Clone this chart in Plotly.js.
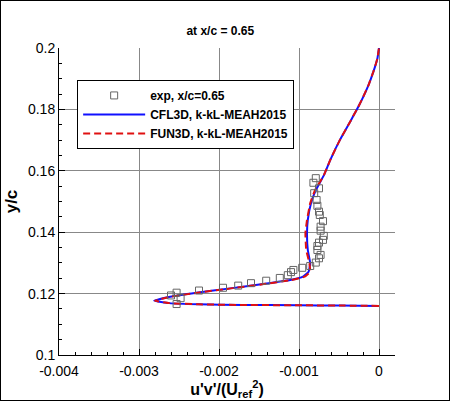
<!DOCTYPE html>
<html>
<head>
<meta charset="utf-8">
<script src="https://cdn.plot.ly/plotly-3.0.1.min.js"></script>
<style>
  body { margin: 0; background: #fff; }
  #chart { width: 448px; height: 399px; border: 1px solid #000; }
</style>
</head>
<body>
<div id="chart"></div>
<script>
// experimental data, x/c = 0.65
const expX = [-0.00079, -0.00082, -0.00075, -0.00081, -0.00078, -0.00077, -0.00075, -0.00074,
  -0.0007, -0.00073, -0.00073, -0.00069, -0.0007, -0.00075, -0.00077, -0.00077, -0.00073,
  -0.00075, -0.00079, -0.00086, -0.00096, -0.00107, -0.0011, -0.00114, -0.00124, -0.00141,
  -0.0016, -0.00176, -0.00195, -0.00225, -0.00253, -0.0026, -0.00248, -0.00253];
const expY = [0.1576, 0.1561, 0.1543, 0.1527, 0.1505, 0.1486, 0.1467, 0.1456,
  0.1436, 0.1418, 0.1405, 0.1388, 0.1375, 0.1366, 0.1355, 0.1342, 0.1326,
  0.1315, 0.1301, 0.129, 0.1284, 0.1277, 0.127, 0.126, 0.1251, 0.1242,
  0.1234, 0.1226, 0.1219, 0.121, 0.1203, 0.1194, 0.1185, 0.1166];

// CFL3D k-kL-MEAH2015
const cflX = [0, -0.0005, -0.001, -0.0017, -0.00225, -0.00262, -0.00281, -0.00261, -0.00228, -0.00186,
  -0.00145, -0.00111, -0.00095, -0.00088, -0.00086, -0.00089, -0.0009, -0.00089, -0.00085,
  -0.00079, -0.00069, -0.00061, -0.00049, -0.00035, -0.00028, -0.000215, -0.00013, -0.00007, -0.00002, 0];
const cflY = [0.116, 0.1161, 0.1162, 0.1163, 0.1165, 0.1169, 0.1177, 0.119, 0.1203, 0.1217,
  0.1231, 0.1244, 0.1255, 0.1271, 0.1299, 0.1342, 0.1396, 0.144, 0.1494,
  0.1537, 0.1585, 0.1635, 0.17, 0.1765, 0.1798, 0.1831, 0.188, 0.1923, 0.1966, 0.2];

// FUN3D k-kL-MEAH2015
const funX = [0, -0.0005, -0.001, -0.0017, -0.00225, -0.00262, -0.0028, -0.0026, -0.00227, -0.00185,
  -0.00144, -0.0011, -0.00093, -0.00086, -0.00087, -0.00091, -0.00092, -0.0009, -0.00086,
  -0.0008, -0.00069, -0.00061, -0.00049, -0.00035, -0.00028, -0.000215, -0.00013, -0.00007, -0.00002, 0];
const funY = cflY;

const xTicks = [-0.004, -0.003, -0.002, -0.001, 0];
const xTickText = ['-0.004', '-0.003', '-0.002', '-0.001', '0'];
const yTicks = [0.1, 0.12, 0.14, 0.16, 0.18, 0.2];
const yTickText = ['0.1', '0.12', '0.14', '0.16', '0.18', '0.2'];

const font = 'Liberation Sans, Arial, sans-serif';

const traces = [
  {
    x: cflX, y: cflY, mode: 'lines', name: 'CFL3D, k-kL-MEAH2015',
    line: { color: '#1010ff', width: 2, shape: 'spline', smoothing: 0.3 }, legendrank: 2
  },
  {
    x: funX, y: funY, mode: 'lines', name: 'FUN3D, k-kL-MEAH2015',
    line: { color: '#e01010', width: 2, dash: '7px,4px', shape: 'spline', smoothing: 0.3 }, legendrank: 3
  },
  {
    x: expX, y: expY, mode: 'markers', name: 'exp, x/c=0.65',
    marker: { symbol: 'square-open', size: 7, color: '#666', line: { width: 1 } },
    legendrank: 1
  }
];

const layout = {
  width: 448, height: 399,
  margin: { l: 58, r: 54, t: 47, b: 45 },
  paper_bgcolor: '#fff', plot_bgcolor: '#fff',
  font: { family: font, color: '#000', size: 14 },
  title: {
    text: 'at x/c = 0.65', font: { size: 12, weight: 'bold' },
    x: 0.48, xref: 'paper', xanchor: 'center',
    y: 0.925, yanchor: 'middle'
  },
  xaxis: {
    range: [-0.004, 0.0002],
    tickvals: xTicks, ticktext: xTickText,
    ticks: 'inside', ticklen: 6, tickcolor: '#000',
    ticklabelstandoff: 3,
    minor: { dtick: 0.0002, ticks: 'inside', ticklen: 3, tickcolor: '#000', showgrid: false },
    showline: true, linecolor: '#000', linewidth: 1,
    showgrid: true, gridcolor: '#888', gridwidth: 1,
    zeroline: false,
    title: { text: "u'v'/(U<sub>ref</sub><sup>2</sup>)", font: { size: 16, weight: 'bold' }, standoff: 2 }
  },
  yaxis: {
    range: [0.1, 0.2],
    tickvals: yTicks, ticktext: yTickText,
    ticks: 'inside', ticklen: 6, tickcolor: '#000',
    minor: { dtick: 0.005, ticks: 'inside', ticklen: 3, tickcolor: '#000', showgrid: false },
    showline: true, linecolor: '#000', linewidth: 1,
    showgrid: true, gridcolor: '#888', gridwidth: 1,
    zeroline: false,
    title: { text: 'y/c', font: { size: 17, weight: 'bold' }, standoff: 6 }
  },
  legend: {
    x: 0.054, y: 0.896, xanchor: 'left', yanchor: 'top',
    bgcolor: '#fff', bordercolor: '#000', borderwidth: 1,
    font: { size: 12, weight: 'bold' },
    itemwidth: 62, tracegroupgap: 0
  },
  showlegend: true
};

Plotly.newPlot('chart', traces, layout, { displayModeBar: false, staticPlot: true });
</script>
</body>
</html>
